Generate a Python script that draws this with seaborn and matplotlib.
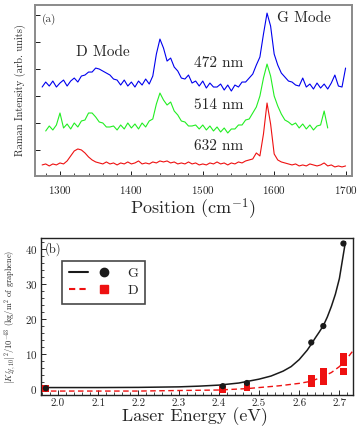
import numpy as np
import pandas as pd
import matplotlib.pyplot as plt
import matplotlib.ticker as mtick
from matplotlib.lines import Line2D
from matplotlib.legend_handler import HandlerTuple
import seaborn as sns

sns.set_theme(style='ticks')
plt.rcParams['font.family'] = ['cmr10', 'DejaVu Serif']
plt.rcParams['mathtext.fontset'] = 'cm'
plt.rcParams['axes.formatter.use_mathtext'] = True
plt.rcParams['axes.unicode_minus'] = False

# ---- panel (a): Raman spectra, sampled every 5 cm^-1 (arb. units) ----
pos_blue = np.arange(1275, 1701, 5)
blue_472 = [89, 94, 90, 95, 89, 93, 96, 90, 95, 98,
            94, 100, 101, 104, 104, 108, 107, 105, 103, 101,
            97, 96, 91, 96, 90, 94, 89, 95, 91, 97,
            92, 100, 122, 137, 128, 115, 118, 109, 105, 98,
            97, 101, 93, 95, 90, 95, 88, 93, 89, 89,
            92, 86, 91, 85, 91, 89, 94, 94, 98, 102,
            111, 119, 142, 163, 150, 122, 111, 103, 99, 95,
            94, 91, 90, 98, 89, 92, 87, 93, 88, 92,
            87, 93, 101, 90, 89, 108]

pos_green = np.arange(1280, 1676, 5)
green_514 = [45, 50, 46, 51, 63, 48, 52, 47, 53, 49,
             55, 56, 63, 63, 59, 54, 53, 49, 49, 50,
             46, 51, 47, 53, 48, 52, 47, 53, 49, 55,
             57, 72, 83, 76, 71, 74, 65, 61, 55, 54,
             50, 50, 51, 47, 51, 46, 50, 45, 49, 44,
             48, 43, 47, 47, 51, 51, 56, 57, 63, 69,
             80, 98, 112, 100, 80, 70, 62, 56, 54, 51,
             53, 48, 52, 47, 51, 46, 50, 51, 65, 48]

pos_red = np.arange(1275, 1701, 5)
red_632 = [11, 12, 10, 12, 11, 13, 12, 15, 20, 25,
           27, 26, 23, 19, 16, 14, 13, 12, 14, 12,
           13, 11, 13, 12, 14, 12, 13, 15, 12, 13,
           12, 14, 13, 15, 14, 15, 13, 14, 12, 13,
           12, 14, 12, 13, 11, 12, 11, 13, 12, 14,
           12, 13, 11, 13, 12, 14, 13, 15, 16, 17,
           23, 20, 42, 73, 52, 22, 16, 14, 13, 12,
           11, 12, 10, 11, 10, 12, 11, 10, 11, 13,
           10, 11, 9, 10, 9, 10]

# ---- panel (b): coupling vs laser energy ----
g_energy = [1.97, 2.41, 2.47, 2.63, 2.66, 2.71]
g_value = [0.1, 0.7, 1.6, 13.2, 17.9, 41.5]
d_energy = [1.97, 2.41, 2.47, 2.63, 2.63, 2.63, 2.66, 2.66, 2.66, 2.66,
            2.71, 2.71, 2.71, 2.71]
d_value = [0.0, -0.3, 0.3, 1.5, 2.3, 3.0, 2.0, 3.0, 4.0, 5.0,
           5.0, 7.3, 8.2, 9.2]
g_fit_e = [1.96, 2.1, 2.2, 2.3, 2.35, 2.4, 2.45, 2.5, 2.53, 2.56, 2.58,
           2.6, 2.62, 2.63, 2.64, 2.65, 2.66, 2.67, 2.68, 2.69, 2.70,
           2.705, 2.71, 2.715]
g_fit_v = [0.3, 0.3, 0.35, 0.5, 0.7, 1.0, 1.6, 2.7, 3.6, 5.0, 6.3,
           8.3, 11.0, 12.7, 14.5, 16.2, 18.0, 20.5, 23.5, 27.0, 31.5,
           35.0, 38.5, 42.0]
d_fit_e = [1.96, 2.2, 2.4, 2.47, 2.5, 2.55, 2.6, 2.63, 2.66, 2.68, 2.70,
           2.71, 2.72, 2.735]
d_fit_v = [-0.7, -0.7, -0.4, 0.0, 0.3, 0.8, 1.5, 2.1, 3.5, 4.6, 6.3,
           7.4, 8.8, 11.0]

fig = plt.figure(figsize=(3.57, 4.26), dpi=100)
fig.set_facecolor('white')

# ---------------- (a) ----------------
ax1 = fig.add_axes([0.098, 0.587, 0.888, 0.401])
spec = pd.concat([
    pd.DataFrame({'pos': pos_blue, 'I': blue_472, 'laser': '472'}),
    pd.DataFrame({'pos': pos_green, 'I': green_514, 'laser': '514'}),
    pd.DataFrame({'pos': pos_red, 'I': red_632, 'laser': '632'}),
])
sns.lineplot(data=spec, x='pos', y='I', hue='laser', estimator=None, sort=False,
             palette={'472': '#0000EE', '514': '#22EE22', '632': '#EE1111'},
             lw=0.8, legend=False, ax=ax1)
ax1.set_xlim(1265, 1709)
ax1.set_ylim(0, 171)
ax1.xaxis.set_major_locator(mtick.MultipleLocator(100))
ax1.xaxis.set_minor_locator(mtick.MultipleLocator(20))
ax1.set_yticks([26, 53, 80, 107, 134, 161])
ax1.set_yticklabels([])
ax1.tick_params(axis='both', which='major', direction='in', length=3.5, width=0.7,
                labelsize=8, color='k')
ax1.tick_params(axis='x', which='major', pad=6)
ax1.tick_params(axis='both', which='minor', direction='in', length=2, width=0.6)
for s in ax1.spines.values():
    s.set_color('#8a8a8a')
    s.set_linewidth(1.4)
ax1.set_xlabel('Position (cm$^{-1}$)', fontsize=13)
ax1.xaxis.set_label_coords(0.498, -0.12)
ax1.set_ylabel('Raman Intensity (arb. units)', fontsize=7.5)
ax1.yaxis.set_label_coords(-0.028, 0.5)
ax1.text(0.022, 0.95, '(a)', transform=ax1.transAxes, fontsize=8,
         ha='left', va='top', color='#333333')
ax1.text(1360, 124, 'D Mode', fontsize=11, ha='center', va='center')
ax1.text(1641, 158, 'G Mode', fontsize=11, ha='center', va='center')
ax1.text(1522, 113, '472 nm', fontsize=11, ha='center', va='center')
ax1.text(1522, 71, '514 nm', fontsize=11, ha='center', va='center')
ax1.text(1522, 30, '632 nm', fontsize=11, ha='center', va='center')

# ---------------- (b) ----------------
ax2 = fig.add_axes([0.115, 0.073, 0.874, 0.3685])
sns.lineplot(x=g_fit_e, y=g_fit_v, color='k', lw=1.1, estimator=None,
             sort=False, ax=ax2)
sns.lineplot(x=d_fit_e, y=d_fit_v, color='#EE1111', lw=1.0, estimator=None,
             sort=False, ax=ax2, linestyle=(0, (4, 2.5)))
sns.scatterplot(x=d_energy, y=d_value, marker='s', color='#EE1111', s=24,
                edgecolor='none', ax=ax2, zorder=3)
sns.scatterplot(x=g_energy, y=g_value, marker='o', color='k', s=20,
                edgecolor='none', ax=ax2, zorder=4)
ax2.set_xlim(1.958, 2.734)
ax2.set_ylim(-1.8, 43.1)
ax2.xaxis.set_major_locator(mtick.MultipleLocator(0.1))
ax2.xaxis.set_minor_locator(mtick.MultipleLocator(0.02))
ax2.xaxis.set_major_formatter(mtick.FormatStrFormatter('%.1f'))
ax2.yaxis.set_major_locator(mtick.MultipleLocator(10))
ax2.yaxis.set_minor_locator(mtick.MultipleLocator(2))
ax2.tick_params(axis='both', which='major', direction='in', length=3.5, width=0.7,
                labelsize=8, pad=2.5)
ax2.tick_params(axis='both', which='minor', direction='in', length=2, width=0.6)
for s in ax2.spines.values():
    s.set_color('#222222')
    s.set_linewidth(1.0)
ax2.set_xlabel('Laser Energy (eV)', fontsize=13)
ax2.xaxis.set_label_coords(0.494, -0.08)
ax2.set_ylabel(r'$\left|K^{\prime}_{2f,10}\right|^2/10^{-43}$ (kg/m$^2$ of graphene)',
               fontsize=6)
ax2.yaxis.set_label_coords(-0.072, 0.5)
ax2.text(0.012, 0.975, '(b)', transform=ax2.transAxes, fontsize=9,
         ha='left', va='top')

handles = [
    (Line2D([], [], color='k', lw=1.5), Line2D([], [], color='k', marker='o', ls='', ms=6)),
    (Line2D([], [], color='#EE1111', lw=1.5, ls=(0, (3, 2))),
     Line2D([], [], color='#EE1111', marker='s', ls='', ms=5.5)),
]
leg = ax2.legend(handles, ['G', 'D'], handler_map={tuple: HandlerTuple(ndivide=None, pad=0.5)},
                 loc='upper left', bbox_to_anchor=(0.067, 0.855), fontsize=10,
                 handlelength=3.2, frameon=True, fancybox=False, borderpad=0.5,
                 labelspacing=0.3, handletextpad=1.0, borderaxespad=0)
leg.get_frame().set_edgecolor('k')
leg.get_frame().set_linewidth(1.2)

plt.savefig('out.png', dpi=100)
